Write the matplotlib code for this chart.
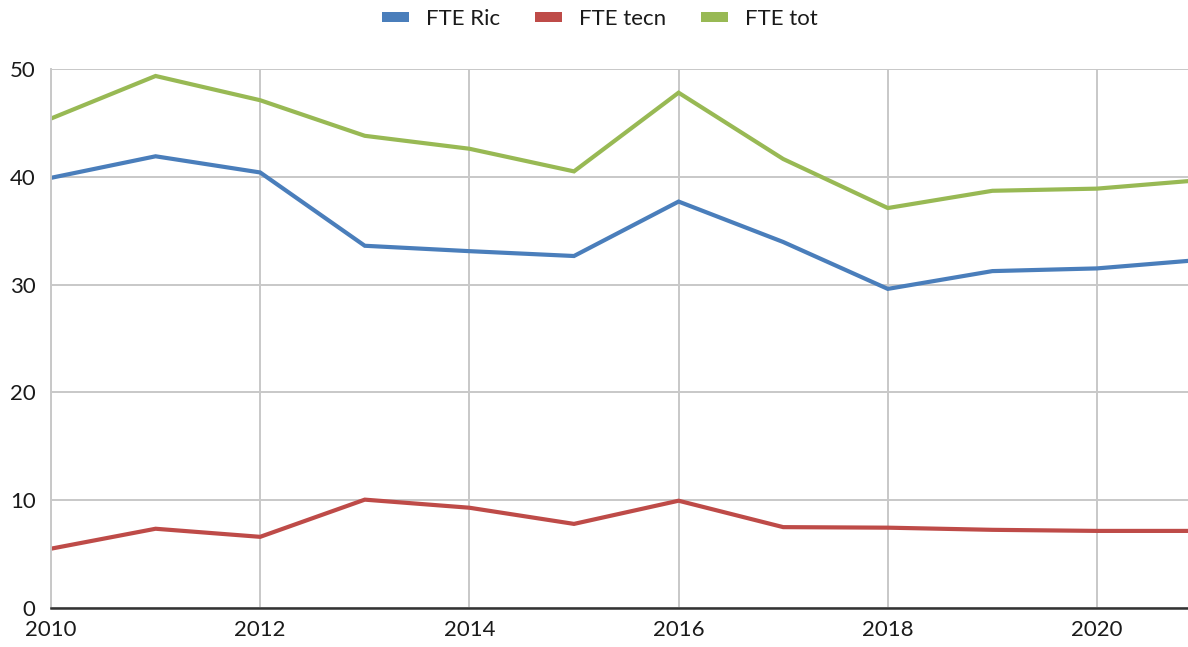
import matplotlib.pyplot as plt
from matplotlib.patches import Patch

years = [2010, 2011, 2012, 2013, 2014, 2015, 2016, 2017, 2018, 2019, 2020, 2021]
fte_ric = [39.9, 41.9, 40.4, 33.6, 33.1, 32.65, 37.7, 33.95, 29.6, 31.25, 31.5, 32.3]
fte_tecn = [5.5, 7.35, 6.6, 10.05, 9.3, 7.8, 9.95, 7.5, 7.45, 7.25, 7.15, 7.15]
fte_tot = [45.4, 49.35, 47.1, 43.8, 42.6, 40.5, 47.8, 41.65, 37.1, 38.7, 38.9, 39.7]
labels = ['FTE Ric', 'FTE tecn', 'FTE tot']
colors = ['#4a7ebb', '#be4b48', '#98b954']

plt.rcParams['font.family'] = ['Lato', 'DejaVu Sans']

fig = plt.figure(figsize=(11.88, 6.47), dpi=100)
ax = fig.add_axes([0.0429, 0.0603, 0.9571, 0.8331])

for series, col in zip([fte_ric, fte_tecn, fte_tot], colors):
    ax.plot(years, series, color=col, linewidth=3.0, solid_joinstyle='miter')

ax.set_xlim(2010, 2020.87)
ax.set_ylim(0, 50)
ax.set_xticks(range(2010, 2021, 2))
ax.set_yticks(range(0, 51, 10))
ax.grid(True, color='#c8c8c8', linewidth=1.4)
ax.set_axisbelow(True)

for side in ['top', 'right']:
    ax.spines[side].set_visible(False)
ax.spines['left'].set_color('#c8c8c8')
ax.spines['left'].set_linewidth(1.4)
ax.spines['bottom'].set_color('#333333')
ax.spines['bottom'].set_linewidth(1.8)

ax.tick_params(axis='both', length=0, labelsize=16, colors='#1a1a1a')
ax.tick_params(axis='x', pad=9)
ax.tick_params(axis='y', pad=11)

handles = [Patch(facecolor=c, edgecolor='none') for c in colors]
fig.legend(handles, labels, loc='upper center', bbox_to_anchor=(0.505, 1.0),
           ncol=3, frameon=False, fontsize=16, handlelength=1.2,
           handleheight=0.35, columnspacing=1.6, handletextpad=0.75,
           borderaxespad=0.0, labelcolor='#1a1a1a')

fig.savefig('out.png', dpi=100)
